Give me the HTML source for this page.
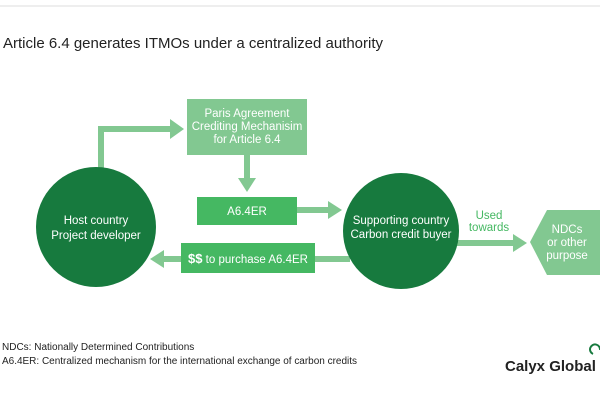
<!DOCTYPE html>
<html><head><style>
body{margin:0;width:600px;height:400px;background:#fff;overflow:hidden;font-family:"Liberation Sans",sans-serif;}
</style></head><body>
<svg width="600" height="400" xmlns="http://www.w3.org/2000/svg" font-family="Liberation Sans, sans-serif">
<line x1="0" y1="6" x2="600" y2="6" stroke="#ddd" stroke-width="1"/>
<text x="3" y="48" font-size="15" fill="#222" textLength="380">Article 6.4 generates ITMOs under a centralized authority</text>
<polyline points="101,170 101,129 172,129" fill="none" stroke="#82c891" stroke-width="6"/>
<polygon points="170,119 184,129 170,139" fill="#82c891"/>
<line x1="247" y1="155" x2="247" y2="180" stroke="#82c891" stroke-width="6"/>
<polygon points="238,178 256,178 247,192" fill="#82c891"/>
<line x1="297" y1="210" x2="330" y2="210" stroke="#82c891" stroke-width="6"/>
<polygon points="328,201 342,210 328,219" fill="#82c891"/>
<line x1="350" y1="259" x2="162" y2="259" stroke="#82c891" stroke-width="6"/>
<polygon points="164,250 150,259 164,268" fill="#82c891"/>
<line x1="455" y1="243" x2="515" y2="243" stroke="#82c891" stroke-width="6"/>
<polygon points="513,234 527,243 513,252" fill="#82c891"/>
<rect x="187" y="99" width="120" height="56" fill="#82c891"/>
<text font-size="11.5" fill="#fff" text-anchor="middle"><tspan x="247" y="117">Paris Agreement</tspan><tspan x="247" y="130">Crediting Mechanisim</tspan><tspan x="247" y="143">for Article 6.4</tspan></text>
<rect x="197" y="197" width="100" height="28" fill="#45b862"/>
<text x="247" y="215" font-size="11.5" fill="#fff" text-anchor="middle">A6.4ER</text>
<rect x="181" y="243" width="134" height="30" fill="#45b862"/>
<text x="248" y="263" font-size="11.5" fill="#fff" text-anchor="middle"><tspan font-weight="bold" font-size="13">$$</tspan> to purchase A6.4ER</text>
<circle cx="96" cy="227" r="60" fill="#177a3e"/>
<text font-size="11.5" fill="#fff" text-anchor="middle"><tspan x="96" y="224">Host country</tspan><tspan x="96" y="239">Project developer</tspan></text>
<circle cx="401" cy="231" r="58" fill="#177a3e"/>
<text font-size="11.5" fill="#fff" text-anchor="middle"><tspan x="401" y="224">Supporting country</tspan><tspan x="401" y="238">Carbon credit buyer</tspan></text>
<text font-size="11.5" fill="#45b862" text-anchor="middle"><tspan x="489" y="219">Used</tspan><tspan x="489" y="231">towards</tspan></text>
<polygon points="530,242 547,210 600,210 600,275 547,275" fill="#82c891"/>
<text font-size="11.5" fill="#fff" text-anchor="middle"><tspan x="567" y="233">NDCs</tspan><tspan x="567" y="246">or other</tspan><tspan x="567" y="259">purpose</tspan></text>
<text x="2" y="350" font-size="10" fill="#222">NDCs: Nationally Determined Contributions</text>
<text x="2" y="364" font-size="10" fill="#222" textLength="355">A6.4ER: Centralized mechanism for the international exchange of carbon credits</text>
<text x="505" y="371" font-size="15" font-weight="bold" fill="#222">Calyx Global</text>
<path d="M593,354 A5,5 0 1 1 600,350" fill="none" stroke="#177a3e" stroke-width="2"/>
</svg>
</body></html>
